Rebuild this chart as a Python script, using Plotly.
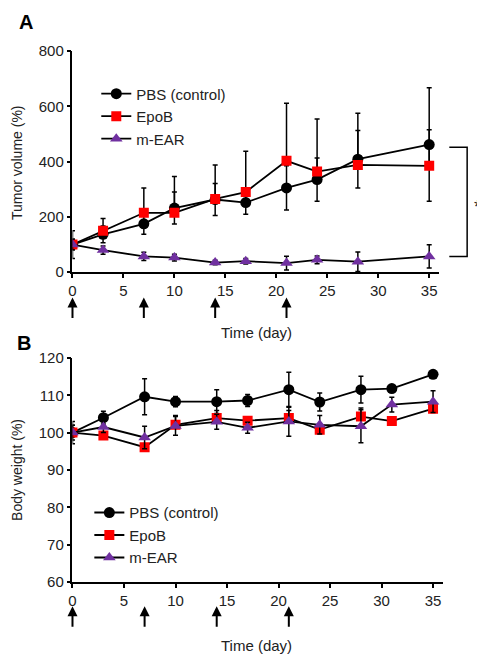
import plotly.graph_objects as go

# ---------------- data ----------------
days_a = [0, 3, 7, 10, 14, 17, 21, 24, 28, 35]
pbs_a = [100, 137, 175, 232, 263, 252, 305, 335, 409, 462]
pbs_a_err = [50, 30, 38, 58, 58, 42, 80, 78, 104, 205]
epob_a = [100, 150, 215, 215, 265, 290, 403, 364, 388, 385]
epob_a_err = [15, 44, 90, 131, 123, 148, 208, 190, 187, 130]
mear_a = [100, 80, 57, 53, 35, 40, 33, 45, 38, 57]
mear_a_err = [20, 15, 15, 12, 8, 10, 25, 14, 35, 42]

days_b = [0, 3, 7, 10, 14, 17, 21, 24, 28, 31, 35]
pbs_b = [100, 104.0, 109.6, 108.3, 108.3, 108.6, 111.5, 108.2, 111.5, 111.8, 115.6]
pbs_b_err = [3, 1.7, 4.8, 1.4, 3.2, 1.6, 4.7, 2.4, 3.6, 0.5, 0.5]
epob_b = [100, 99.2, 96.1, 102.1, 103.9, 103.2, 103.9, 100.8, 104.3, 103.1, 106.4]
epob_b_err = [2, 0.5, 0.5, 2.5, 2, 1, 2, 1.5, 2.3, 1, 1]
mear_b = [100, 101.5, 98.7, 101.8, 102.9, 101.3, 103.0, 102.1, 101.7, 107.5, 108.3]
mear_b_err = [2, 1.5, 3, 2.5, 2, 1.5, 4, 2.5, 4.4, 2, 2.9]

injection_days = [0, 7, 14, 21]
names = ["PBS (control)", "EpoB", "m-EAR"]
x_ticks = [0, 5, 10, 15, 20, 25, 30, 35]
y_ticks_a = [0, 200, 400, 600, 800]
y_ticks_b = [60, 70, 80, 90, 100, 110, 120]

FONT = "Arial, Liberation Sans, sans-serif"
OFF = 8  # the page body's default margin
W, H = 485 - OFF, 665 - OFF

fig = go.Figure()

styles = [
    dict(color="black", symbol="circle", size=11),
    dict(color="#ff0000", symbol="square", size=10),
    dict(color="#7030a0", symbol="triangle-up", size=11),
]

def err(vals, plus_only=False):
    d = dict(type="data", array=vals, color="black", thickness=1.5, width=2.5, visible=True)
    if plus_only:
        d["symmetric"] = False
        d["arrayminus"] = [0] * len(vals)
    return d

series_a = [(pbs_a, pbs_a_err, False), (epob_a, epob_a_err, True), (mear_a, mear_a_err, False)]
series_b = [(pbs_b, pbs_b_err, False), (epob_b, epob_b_err, True), (mear_b, mear_b_err, False)]

for i, (ys, es, po) in enumerate(series_a):
    fig.add_trace(go.Scatter(
        x=days_a, y=ys, name=names[i], mode="lines+markers",
        line=dict(color="black", width=1.8),
        marker=dict(color=styles[i]["color"], symbol=styles[i]["symbol"], size=styles[i]["size"], line=dict(width=0)),
        error_y=err(es, po), xaxis="x", yaxis="y", legend="legend",
    ))
for i, (ys, es, po) in enumerate(series_b):
    fig.add_trace(go.Scatter(
        x=days_b, y=ys, name=names[i], mode="lines+markers",
        line=dict(color="black", width=1.8),
        marker=dict(color=styles[i]["color"], symbol=styles[i]["symbol"], size=styles[i]["size"], line=dict(width=0)),
        error_y=err(es, po), xaxis="x2", yaxis="y2", legend="legend2",
    ))

axis_common = dict(
    showline=True, linecolor="black", linewidth=1.5, ticks="outside", ticklen=4,
    tickwidth=1.5, tickcolor="black", showgrid=False, zeroline=False,
    tickfont=dict(family=FONT, size=15, color="#222"),
)

def px(x):
    return (x - OFF) / W

def py(y):
    return 1 - (y - OFF) / H

fig.update_layout(
    width=W, height=H, margin=dict(l=0, r=0, t=0, b=0),
    paper_bgcolor="white", plot_bgcolor="white",
    font=dict(family=FONT, color="#222"),
    xaxis=dict(domain=[px(69), px(439)], range=[0, 36], tickvals=x_ticks, anchor="y", **axis_common),
    yaxis=dict(domain=[py(270), py(43)], range=[0, 800], tickvals=y_ticks_a, anchor="x", **axis_common),
    xaxis2=dict(domain=[px(69), px(443)], range=[0, 36], tickvals=x_ticks, anchor="y2", **axis_common),
    yaxis2=dict(domain=[py(588), py(358)], range=[60, 120], tickvals=y_ticks_b, anchor="x2", **axis_common),
    legend=dict(x=px(93), y=py(70), xanchor="left", yanchor="top", bgcolor="rgba(0,0,0,0)",
                font=dict(family=FONT, size=15, color="#222"), itemwidth=30, tracegroupgap=0),
    legend2=dict(x=px(86), y=py(500), xanchor="left", yanchor="top", bgcolor="rgba(0,0,0,0)",
                 font=dict(family=FONT, size=15, color="#222"), itemwidth=30, tracegroupgap=0),
    showlegend=True,
)

annotations = []
# injection arrows
for d in injection_days:
    annotations.append(dict(x=d, y=py(296), xref="x", yref="paper", ax=0, ay=22, text="",
                            showarrow=True, arrowhead=2, arrowsize=1, arrowwidth=2, arrowcolor="black"))
    annotations.append(dict(x=d, y=py(613), xref="x2", yref="paper", ax=0, ay=22, text="",
                            showarrow=True, arrowhead=2, arrowsize=1, arrowwidth=2, arrowcolor="black"))
# axis titles
annotations += [
    dict(x=px(255), y=py(332), xref="paper", yref="paper", text="Time (day)", showarrow=False,
         font=dict(family=FONT, size=15, color="#222"), xanchor="center", yanchor="middle"),
    dict(x=px(255), y=py(653), xref="paper", yref="paper", text="Time (day)", showarrow=False,
         font=dict(family=FONT, size=15, color="#222"), xanchor="center", yanchor="middle"),
    dict(x=px(13), y=py(157), xref="paper", yref="paper", text="Tumor volume (%)", showarrow=False,
         textangle=-90, font=dict(family=FONT, size=14, color="#222"), xanchor="center", yanchor="middle"),
    dict(x=px(13), y=py(473), xref="paper", yref="paper", text="Body weight (%)", showarrow=False,
         textangle=-90, font=dict(family=FONT, size=14, color="#222"), xanchor="center", yanchor="middle"),
    dict(x=px(22), y=py(13), xref="paper", yref="paper", text="<b>A</b>", showarrow=False,
         font=dict(family=FONT, size=20, color="black"), xanchor="center", yanchor="middle"),
    dict(x=px(20), y=py(343), xref="paper", yref="paper", text="<b>B</b>", showarrow=False,
         font=dict(family=FONT, size=20, color="black"), xanchor="center", yanchor="middle"),
    dict(x=px(478), y=(pbs_a[-1] + mear_a[-1]) / 2 - 22, xref="paper", yref="y", text="*", showarrow=False,
         font=dict(family=FONT, size=19, color="#222"), xanchor="center", yanchor="middle"),
]
fig.update_layout(annotations=annotations)

# significance bracket
top, bot = pbs_a[-1] - 10, mear_a[-1]
fig.add_shape(type="path", xref="paper", yref="y",
              path=f"M {px(449)} {top} L {px(467)} {top} L {px(467)} {bot} L {px(449)} {bot}",
              line=dict(color="black", width=1.5))

fig.write_html("out.html")
